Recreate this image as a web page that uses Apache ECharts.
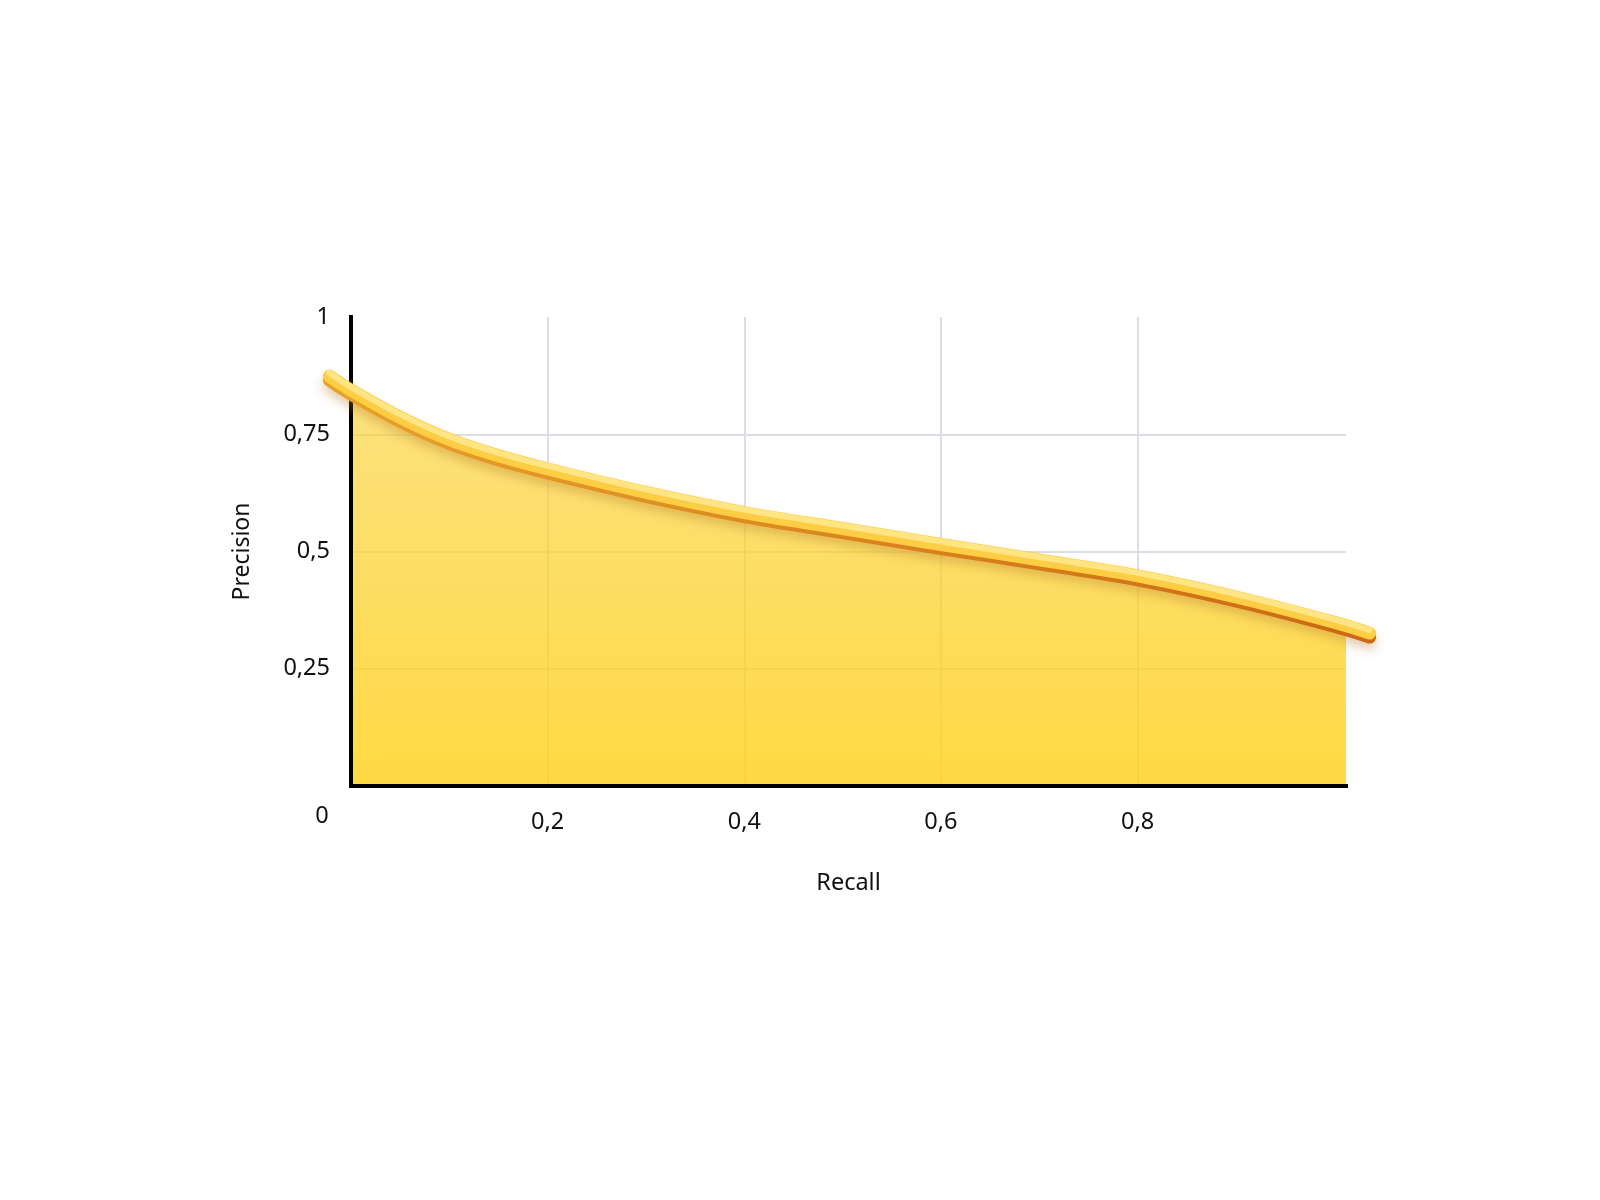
<!DOCTYPE html>
<html>
<head>
<meta charset="utf-8">
<script src="https://cdn.jsdelivr.net/npm/echarts@6/dist/echarts.min.js"></script>
<style>
html,body{margin:0;padding:0;background:#fff;}
#chart{width:1600px;height:1200px;}
</style>
</head>
<body>
<div id="chart"></div>
<script>
// Data
const recall    = [-0.022, 0, 0.05, 0.1, 0.15, 0.2, 0.3, 0.4, 0.5, 0.6, 0.7, 0.8, 0.9, 1.0, 1.036];
const precision = [0.874, 0.844, 0.786, 0.739, 0.704, 0.676, 0.626, 0.583, 0.549, 0.515, 0.482, 0.448, 0.403, 0.349, 0.326];
const xTickValues = [0.2, 0.4, 0.6, 0.8];
const yTickValues = [0.25, 0.5, 0.75, 1];
const xName = 'Recall';
const yName = 'Precision';
const originLabel = '0';

const pts = recall.map((x, i) => [x, precision[i]]);
const FONT = 'Noto Sans';
const GRID = '#DCDEE5';
const NONE = 'rgba(0,0,0,0)';
const fmt = v => String(v).replace('.', ',');

const chart = echarts.init(document.getElementById('chart'), null, {renderer: 'canvas'});

// plot area geometry
const PL = 351, PT = 317, PW = 995, PH = 469;
const XMAX = 1.012;
const PX = PW / XMAX;               // pixels per unit on x
// wider coordinate systems for the tube so its ends may overhang the plot
const LMIN = -0.05, LMAX = 1.06;
const lineGrid = dy => ({left: PL + LMIN * PX, top: PT + dy, width: (LMAX - LMIN) * PX, height: PH});
const hiddenX = (gi, mn, mx) => ({gridIndex: gi, type: 'value', min: mn, max: mx, show: false});
const hiddenY = gi => ({gridIndex: gi, type: 'value', min: 0, max: 1, show: false});

const option = {
  animation: false,
  backgroundColor: '#ffffff',
  grid: [
    {left: PL, top: PT, width: PW, height: PH},  // 0 main (grid lines, labels, area)
    lineGrid(4),                                   // 1 orange underside
    lineGrid(0),                                   // 2 body
    lineGrid(-3),                                  // 3 highlight
    {left: PL, top: PT, width: PW, height: PH}   // 4 axis lines on top
  ],
  xAxis: [
    {
      gridIndex: 0, type: 'value', min: 0, max: XMAX, interval: 0.2, z: 0,
      axisLine: {show: false}, axisTick: {show: false},
      axisLabel: {
        margin: 24, fontSize: 23.5, color: '#111', fontFamily: FONT,
        formatter: v => xTickValues.some(t => Math.abs(t - v) < 1e-6) ? fmt(v) : ''
      },
      splitLine: {show: true, lineStyle: {color: [NONE, GRID, GRID, GRID, GRID, NONE], width: 2}},
      name: xName, nameLocation: 'middle', nameGap: 85,
      nameTextStyle: {fontSize: 23.5, color: '#111', fontFamily: FONT}
    },
    hiddenX(1, LMIN, LMAX), hiddenX(2, LMIN, LMAX), hiddenX(3, LMIN, LMAX),
    {
      gridIndex: 4, type: 'value', min: 0, max: XMAX, z: 5,
      axisLine: {show: true, onZero: true, lineStyle: {color: '#000', width: 4, cap: 'square'}},
      axisTick: {show: false}, axisLabel: {show: false}, splitLine: {show: false}
    }
  ],
  yAxis: [
    {
      gridIndex: 0, type: 'value', min: 0, max: 1, interval: 0.25, z: 0,
      axisLine: {show: false}, axisTick: {show: false},
      axisLabel: {
        margin: 21, fontSize: 23.5, color: '#111', fontFamily: FONT,
        formatter: v => yTickValues.some(t => Math.abs(t - v) < 1e-6) ? fmt(v) : ''
      },
      splitLine: {show: true, lineStyle: {color: [NONE, GRID, GRID, GRID, NONE], width: 2}},
      name: yName, nameLocation: 'middle', nameGap: 97, nameRotate: 90,
      nameTextStyle: {fontSize: 23, color: '#111', fontFamily: FONT}
    },
    hiddenY(1), hiddenY(2), hiddenY(3),
    {
      gridIndex: 4, type: 'value', min: 0, max: 1, z: 5,
      axisLine: {show: true, lineStyle: {color: '#000', width: 4, cap: 'square'}},
      axisTick: {show: false}, axisLabel: {show: false}, splitLine: {show: false}
    }
  ],
  graphic: [{
    type: 'text', x: 322, y: 816, z: 10,
    style: {text: originLabel, fontSize: 23.5, fontFamily: FONT, fill: '#111', textAlign: 'center', textVerticalAlign: 'middle'}
  }],
  series: [
    {
      // filled area under the curve (clipped to the plot)
      type: 'line', xAxisIndex: 0, yAxisIndex: 0, data: pts, smooth: 0.35,
      showSymbol: false, clip: true, z: 1,
      lineStyle: {width: 0, opacity: 0},
      areaStyle: {
        opacity: 1,
        color: new echarts.graphic.LinearGradient(0, 0, 0, 1, [
          {offset: 0, color: 'rgba(250,208,50,0.62)'},
          {offset: 1, color: 'rgba(255,210,30,0.84)'}
        ])
      }
    },
    {
      // orange underside of the tube + soft shadow
      type: 'line', xAxisIndex: 1, yAxisIndex: 1, data: pts, smooth: 0.35,
      showSymbol: false, clip: false, z: 6,
      lineStyle: {
        width: 13, cap: 'round',
        color: new echarts.graphic.LinearGradient(0, 0, 1, 0, [
          {offset: 0, color: '#E9A229'},
          {offset: 1, color: '#CC6713'}
        ]),
        shadowColor: 'rgba(185,125,45,0.45)', shadowBlur: 12, shadowOffsetY: 5
      }
    },
    {
      // main yellow body of the tube
      type: 'line', xAxisIndex: 2, yAxisIndex: 2, data: pts, smooth: 0.35,
      showSymbol: false, clip: false, z: 7,
      lineStyle: {width: 13, cap: 'round', color: '#FDCD43'}
    },
    {
      // light highlight on top of the tube
      type: 'line', xAxisIndex: 3, yAxisIndex: 3, data: pts, smooth: 0.35,
      showSymbol: false, clip: false, z: 8,
      lineStyle: {width: 6, cap: 'round', color: '#FFE583'}
    }
  ]
};

chart.setOption(option);
</script>
</body>
</html>
